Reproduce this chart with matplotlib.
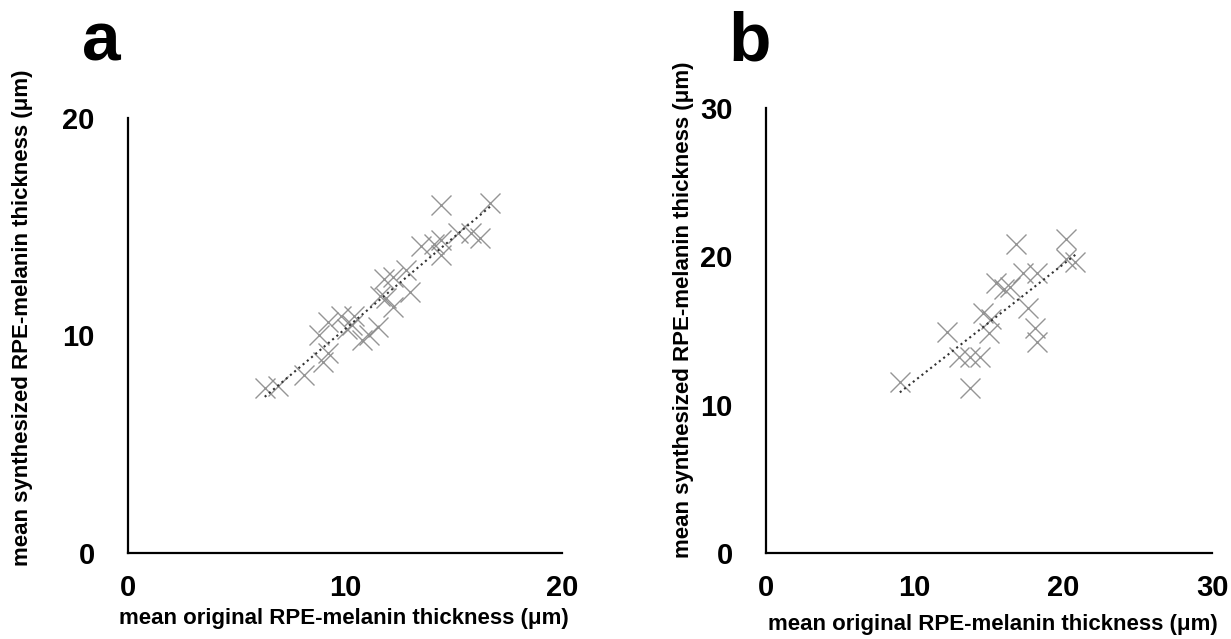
import matplotlib.pyplot as plt
import numpy as np

plt.rcParams['font.family'] = ['Liberation Sans', 'DejaVu Sans']

# panel a: mean original vs synthesized thickness (um)
a_orig = [14.4, 16.7, 16.2, 15.2, 15.8, 14.4, 14.1, 13.5, 14.4,
          11.8, 12.8, 12.2, 13.0, 11.9, 12.2, 11.6, 11.5, 10.4, 9.8,
          9.2, 10.1, 10.8, 8.8, 9.2, 9.0, 8.1, 6.3, 6.9, 10.3, 11.1]
a_synth = [16.0, 16.1, 14.5, 14.7, 14.7, 14.4, 14.2, 14.1, 13.7,
           12.6, 13.0, 12.7, 12.0, 11.7, 11.3, 11.8, 10.4, 10.9, 10.9,
           10.6, 10.3, 9.8, 10.0, 9.2, 8.8, 8.2, 7.6, 7.7, 10.5, 10.0]

# panel b
b_orig = [16.8, 20.2, 20.2, 20.8, 17.3, 18.2, 15.5, 16.4, 17.6, 18.1,
          18.2, 15.0, 14.6, 15.1, 12.2, 13.0, 13.7, 14.4, 9.0, 13.7, 16.0]
b_synth = [20.8, 21.2, 19.8, 19.6, 18.9, 18.9, 18.2, 17.9, 16.5, 15.2,
           14.2, 14.8, 16.2, 15.8, 14.9, 13.2, 13.2, 13.2, 11.5, 11.1, 17.8]

xlab = 'mean original RPE-melanin thickness (\u03bcm)'
ylab = 'mean synthesized RPE-melanin thickness (\u03bcm)'

fig = plt.figure(figsize=(12.31, 6.39), dpi=100)
ax_a = fig.add_axes([0.104, 0.1346, 0.3526, 0.6808])
ax_b = fig.add_axes([0.6223, 0.1346, 0.3623, 0.6964])

panels = [
    (ax_a, a_orig, a_synth, 20, [0, 10, 20], (-0.244, 0.541), (0.498, -0.150)),
    (ax_b, b_orig, b_synth, 30, [0, 10, 20, 30], (-0.186, 0.546), (0.509, -0.160)),
]

for ax, xs, ys, lim, ticks, ylpos, xlpos in panels:
    xs = np.array(xs)
    ys = np.array(ys)
    ax.plot(xs, ys, 'x', color='#8a8a8a', ms=14.5, mew=1.0, alpha=0.9)
    k, b = np.polyfit(xs, ys, 1)
    xx = np.array([xs.min(), xs.max()])
    ax.plot(xx, k * xx + b, ':', color='#333333', lw=1.5)
    ax.set_xlim(0, lim)
    ax.set_ylim(0, lim)
    ax.set_xticks(ticks)
    ax.set_yticks(ticks)
    for s in ['top', 'right']:
        ax.spines[s].set_visible(False)
    for s in ['left', 'bottom']:
        ax.spines[s].set_linewidth(1.6)
    ax.tick_params(length=0, labelsize=21)
    ax.tick_params(axis='y', pad=24)
    ax.tick_params(axis='x', pad=15)
    for t in ax.get_xticklabels() + ax.get_yticklabels():
        t.set_fontweight('bold')
    ax.set_xlabel(xlab, fontsize=16, fontweight='bold', va='center')
    ax.set_ylabel(ylab, fontsize=16, fontweight='bold', va='center')
    ax.xaxis.set_label_coords(*xlpos)
    ax.yaxis.set_label_coords(*ylpos)

fig.text(0.067, 0.906, 'a', fontsize=50, fontweight='bold')
fig.text(0.592, 0.906, 'b', fontsize=50, fontweight='bold')

fig.savefig('out.png', dpi=100)
